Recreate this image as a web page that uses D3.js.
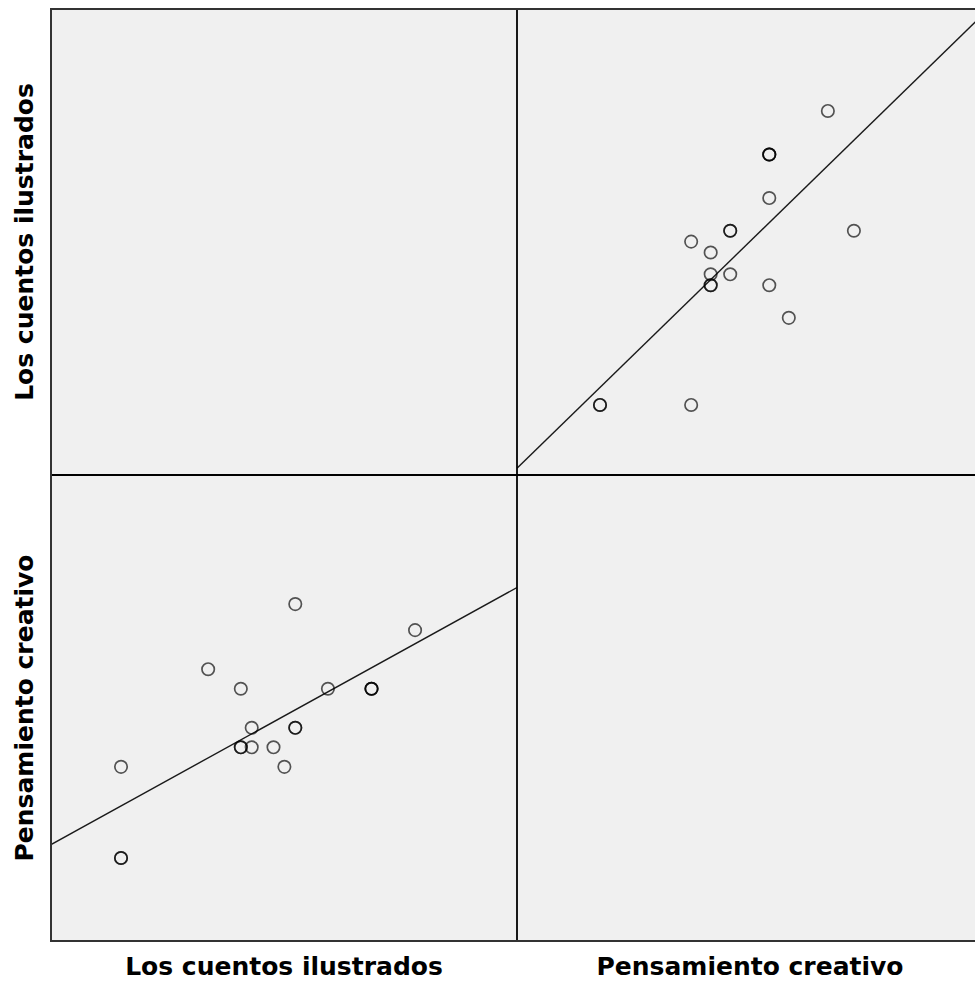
<!DOCTYPE html>
<html>
<head>
<meta charset="utf-8">
<script src="https://cdn.jsdelivr.net/npm/d3@7"></script>
<style>
	body { margin: 0; background: #ffffff; }
	.var_label { font-family: "DejaVu Sans", sans-serif; font-weight: bold; font-size: 25px; fill: #000; }
</style>
</head>
<body>
<div id="chart"></div>
<script>
// variables of the matrix, in row / column order
var var_names = ['Los cuentos ilustrados', 'Pensamiento creativo'];

// one entry per case (duplicates are overplotted)
var cuentos = [26, 37, 18, 21, 29, 33, 33, 33, 22, 26, 26, 21, 21, 22, 24, 25, 10, 10, 10];
var pensamiento = [59, 55, 49, 46, 46, 46, 46, 46, 40, 40, 40, 37, 37, 37, 37, 34, 34, 20, 20];

var width = 975,
	height = 987,
	margin = {top: 9, left: 51},
	cell = 466;

var columns = [cuentos, pensamiento];
var domains = [[3.57, 46.36], [7.25, 78.83]];

var svg = d3.select('#chart')
	.append('svg')
	.attr('width', width)
	.attr('height', height);

var defs = svg.append('defs');

function fitLine(xs, ys) {
	var mx = d3.mean(xs), my = d3.mean(ys);
	var sxy = d3.sum(xs, (d, i) => (d - mx) * (ys[i] - my));
	var sxx = d3.sum(xs, d => (d - mx) * (d - mx));
	var b = sxy / sxx;
	return {b: b, a: my - b * mx};
}

for (let row = 0; row < 2; row++) {
	for (let col = 0; col < 2; col++) {
		let x0 = margin.left + col * cell,
			y0 = margin.top + row * cell;

		let g = svg.append('g')
			.attr('transform', 'translate(' + x0 + ',' + y0 + ')');

		g.append('rect')
			.attr('width', cell)
			.attr('height', cell)
			.attr('fill', '#f0f0f0');

		if (row == col) continue; // diagonal cells stay empty

		let xs = columns[col], ys = columns[row];
		let x = d3.scaleLinear().domain(domains[col]).range([0, cell]);
		let y = d3.scaleLinear().domain(domains[row]).range([cell, 0]);

		let clip_id = 'clip_' + row + '_' + col;
		defs.append('clipPath').attr('id', clip_id)
			.append('rect').attr('width', cell).attr('height', cell);

		let fit = fitLine(xs, ys);
		let dom = x.domain();
		g.append('line')
			.attr('clip-path', 'url(#' + clip_id + ')')
			.attr('x1', x(dom[0]))
			.attr('y1', y(fit.a + fit.b * dom[0]))
			.attr('x2', x(dom[1]))
			.attr('y2', y(fit.a + fit.b * dom[1]))
			.attr('stroke', '#1a1a1a')
			.attr('stroke-width', 1.4);

		g.selectAll('circle')
			.data(xs.map((d, i) => [d, ys[i]]))
			.enter().append('circle')
			.attr('cx', d => x(d[0]))
			.attr('cy', d => y(d[1]))
			.attr('r', 6.2)
			.attr('fill', 'none')
			.attr('stroke', '#000')
			.attr('stroke-opacity', 0.66)
			.attr('stroke-width', 1.7);
	}
}

// inner dividers
svg.append('line')
	.attr('x1', margin.left + cell).attr('x2', margin.left + cell)
	.attr('y1', margin.top).attr('y2', margin.top + 2 * cell)
	.attr('stroke', '#000').attr('stroke-width', 1.8);
svg.append('line')
	.attr('x1', margin.left).attr('x2', margin.left + 2 * cell)
	.attr('y1', margin.top + cell).attr('y2', margin.top + cell)
	.attr('stroke', '#000').attr('stroke-width', 1.8);

// outer frame
svg.append('rect')
	.attr('x', margin.left)
	.attr('y', margin.top)
	.attr('width', 2 * cell)
	.attr('height', 2 * cell)
	.attr('fill', 'none')
	.attr('stroke', '#333')
	.attr('stroke-width', 2);

// column and row labels
var_names.forEach(function(name, i) {
	svg.append('text')
		.attr('class', 'var_label')
		.attr('x', margin.left + i * cell + cell / 2)
		.attr('y', 975)
		.attr('text-anchor', 'middle')
		.text(name);

	svg.append('text')
		.attr('class', 'var_label')
		.attr('transform', 'translate(33,' + (margin.top + i * cell + cell / 2) + ') rotate(-90)')
		.attr('text-anchor', 'middle')
		.text(name);
});
</script>
</body>
</html>
